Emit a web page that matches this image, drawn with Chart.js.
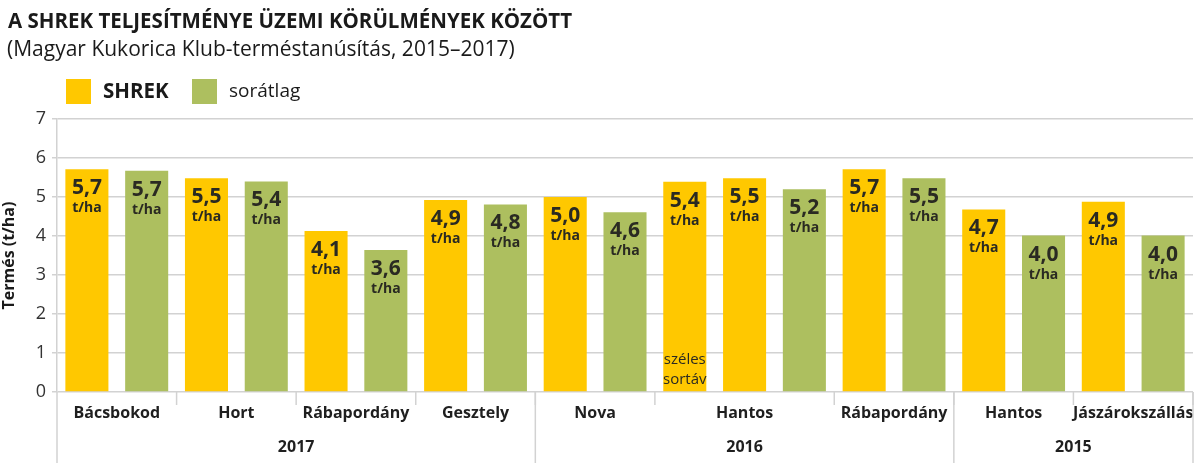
<!DOCTYPE html>
<html>
<head>
<meta charset="utf-8">
<script src="https://cdn.jsdelivr.net/npm/chart.js@4"></script>
<style>
  html, body { margin: 0; padding: 0; background: #fff; }
  #wrap { width: 1200px; height: 463px; position: relative; }
</style>
</head>
<body>
<div id="wrap"><canvas id="myChart" width="1200" height="463"></canvas></div>
<script>
// one entry per bar, left to right
const barLabels = ['Bácsbokod', 'Bácsbokod', 'Hort', 'Hort', 'Rábapordány', 'Rábapordány',
  'Gesztely', 'Gesztely', 'Nova', 'Nova', 'Hantos', 'Hantos', 'Hantos',
  'Rábapordány', 'Rábapordány', 'Hantos', 'Hantos', 'Jászárokszállás', 'Jászárokszállás'];
const shrekValues = [5.71, null, 5.48, null, 4.13, null, 4.92, null, 5.0, null, 5.39, 5.48, null, 5.71, null, 4.68, null, 4.88, null];
const avgValues = [null, 5.67, null, 5.40, null, 3.64, null, 4.81, null, 4.61, null, null, 5.2, null, 5.48, null, 4.01, null, 4.01];
const barNotes = ['', '', '', '', '', '', '', '', '', '', 'széles\nsortáv', '', '', '', '', '', '', '', ''];

// x axis groups: [name, number of bars]
const places = [['Bácsbokod', 2], ['Hort', 2], ['Rábapordány', 2], ['Gesztely', 2], ['Nova', 2],
  ['Hantos', 3], ['Rábapordány', 2], ['Hantos', 2], ['Jászárokszállás', 2]];
const years = [['2017', 8], ['2016', 7], ['2015', 4]];
const yTicks = [0, 1, 2, 3, 4, 5, 6, 7];

const YELLOW = '#FFC800';
const GREEN = '#ADBF5F';
const TXT = '#2a2a22';
const LINE = '#d2d2d2';
const FONT = '"Open Sans", "Noto Sans", sans-serif';

const labelsPlugin = {
  id: 'labels',
  afterDatasetsDraw(chart) {
    const ctx = chart.ctx;
    ctx.save();
    ctx.fillStyle = TXT;
    ctx.textAlign = 'center';
    ctx.textBaseline = 'middle';
    chart.data.datasets.forEach((ds, di) => {
      const meta = chart.getDatasetMeta(di);
      meta.data.forEach((bar, i) => {
        const v = ds.data[i];
        if (v == null) return;
        ctx.font = 'bold 21px ' + FONT;
        ctx.fillText(v.toFixed(1).replace('.', ','), bar.x, bar.y + 19);
        ctx.font = 'bold 14px ' + FONT;
        ctx.fillText('t/ha', bar.x, bar.y + 39);
        if (barNotes[i]) {
          ctx.font = '15px ' + FONT;
          const lines = barNotes[i].split('\n');
          lines.forEach((l, k) => {
            ctx.fillText(l, bar.x, bar.base - 12 - (lines.length - 1 - k) * 20);
          });
        }
      });
    });
    ctx.restore();
  }
};

const headerPlugin = {
  id: 'header',
  afterDraw(chart) {
    const ctx = chart.ctx;
    ctx.save();
    ctx.fillStyle = '#1a1a1a';
    ctx.textBaseline = 'middle';
    ctx.textAlign = 'left';
    ctx.font = 'bold 20.5px ' + FONT;
    ctx.fillText('A SHREK TELJESÍTMÉNYE ÜZEMI KÖRÜLMÉNYEK KÖZÖTT', 8, 22);
    ctx.font = '21px ' + FONT;
    ctx.fillText('(Magyar Kukorica Klub-terméstanúsítás, 2015–2017)', 7, 50);
    // legend
    const items = [['SHREK', YELLOW, 'bold 20.5px ', 66], ['sorátlag', GREEN, '19px ', 192]];
    items.forEach(it => {
      ctx.fillStyle = it[1];
      ctx.fillRect(it[3], 79, 25, 25);
      ctx.fillStyle = '#1a1a1a';
      ctx.font = it[2] + FONT;
      ctx.fillText(it[0], it[3] + 37, 92);
    });
    ctx.restore();
  }
};

const xAxisPlugin = {
  id: 'xgroups',
  afterDraw(chart) {
    const ctx = chart.ctx;
    const x = chart.scales.x;
    const area = chart.chartArea;
    const step = (area.right - area.left) / barLabels.length;
    ctx.save();
    ctx.strokeStyle = LINE;
    ctx.lineWidth = 1.5;
    ctx.fillStyle = '#1f1f1f';
    ctx.textAlign = 'center';
    ctx.textBaseline = 'middle';
    ctx.font = 'bold 16px ' + FONT;
    let idx = 0;
    places.forEach(p => {
      const cx = (x.getPixelForValue(idx) + x.getPixelForValue(idx + p[1] - 1)) / 2;
      ctx.fillText(p[0], cx, 413);
      idx += p[1];
      const bx = x.getPixelForValue(idx) - step / 2;
      ctx.beginPath();
      ctx.moveTo(bx, area.bottom);
      ctx.lineTo(bx, area.bottom + 13);
      ctx.stroke();
    });
    idx = 0;
    const edges = [area.left];
    years.forEach(y => {
      const cx = (x.getPixelForValue(idx) + x.getPixelForValue(idx + y[1] - 1)) / 2;
      ctx.fillText(y[0], cx, 447);
      idx += y[1];
      edges.push(x.getPixelForValue(idx) - step / 2);
    });
    edges.forEach(ex => {
      ctx.beginPath();
      ctx.moveTo(ex, area.bottom);
      ctx.lineTo(ex, chart.height);
      ctx.stroke();
    });
    ctx.restore();
  }
};

const ctx = document.getElementById('myChart').getContext('2d');
const myChart = new Chart(ctx, {
  type: 'bar',
  data: {
    labels: barLabels,
    datasets: [
      { label: 'SHREK', data: shrekValues, backgroundColor: YELLOW, barPercentage: 0.72, categoryPercentage: 1, grouped: false },
      { label: 'sorátlag', data: avgValues, backgroundColor: GREEN, barPercentage: 0.72, categoryPercentage: 1, grouped: false }
    ]
  },
  options: {
    responsive: false,
    animation: false,
    layout: { padding: { top: 119, right: 7, left: 0, bottom: 0 } },
    plugins: { legend: { display: false }, tooltip: { enabled: false } },
    scales: {
      x: {
        ticks: { display: false },
        grid: { display: false },
        border: { display: false },
        afterFit(scale) { scale.height = 71; }
      },
      y: {
        min: 0,
        max: 7,
        afterBuildTicks(scale) { scale.ticks = yTicks.map(v => ({ value: v })); },
        ticks: { color: '#333', font: { family: FONT, size: 18 }, padding: 6 },
        grid: { color: LINE, lineWidth: 1.5, tickLength: 5 },
        border: { color: LINE, width: 1.5 },
        title: { display: true, text: 'Termés (t/ha)', color: '#1a1a1a', font: { family: FONT, size: 16, weight: 'bold' }, padding: 0 },
        afterFit(scale) { scale.width = 57; }
      }
    }
  },
  plugins: [labelsPlugin, headerPlugin, xAxisPlugin]
});
</script>
</body>
</html>
